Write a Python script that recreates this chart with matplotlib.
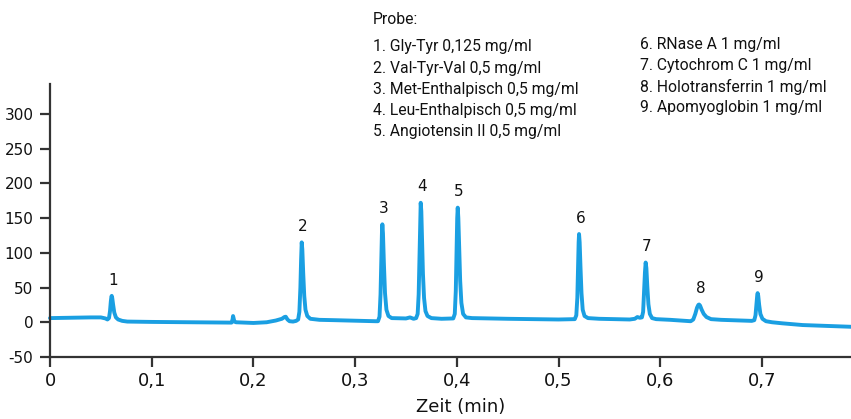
import matplotlib
matplotlib.use("Agg")
import matplotlib.pyplot as plt

# ---- data (time in min, detector signal) ----
time_min = [
    0.0000, 0.0200, 0.0400, 0.0500, 0.0545, 0.0565, 0.0580, 0.0590, 0.0598, 0.0604,
    0.0607, 0.0612, 0.0620, 0.0632, 0.0648, 0.0670, 0.0710, 0.0760, 0.1000, 0.1400,
    0.1785, 0.1795, 0.1800, 0.1805, 0.1812, 0.1830, 0.2000, 0.2130, 0.2220, 0.2280,
    0.2305, 0.2318, 0.2335, 0.2355, 0.2390, 0.2420,
    0.2440, 0.2452, 0.2462, 0.2469, 0.2475, 0.2481, 0.2490, 0.2500, 0.2512, 0.2530,
    0.2560, 0.2650, 0.2800, 0.3050, 0.3200,
    0.3225, 0.3240, 0.3250, 0.3258, 0.3264, 0.3268, 0.3274, 0.3283, 0.3294, 0.3308,
    0.3328, 0.3360, 0.3500, 0.3540, 0.3575,
    0.3600, 0.3615, 0.3625, 0.3633, 0.3640, 0.3645, 0.3651, 0.3658, 0.3667, 0.3678,
    0.3692, 0.3712, 0.3750, 0.3850,
    0.3965, 0.3980, 0.3990, 0.3998, 0.4004, 0.4009, 0.4015, 0.4023, 0.4033, 0.4045,
    0.4062, 0.4090, 0.4150, 0.4500, 0.5000,
    0.5160, 0.5175, 0.5185, 0.5193, 0.5198, 0.5202, 0.5208, 0.5216, 0.5226, 0.5238,
    0.5256, 0.5290, 0.5400, 0.5700,
    0.5750, 0.5775, 0.5800, 0.5820, 0.5832, 0.5842, 0.5850, 0.5857, 0.5864, 0.5873,
    0.5884, 0.5898, 0.5920, 0.5960, 0.6100, 0.6250,
    0.6300, 0.6325, 0.6345, 0.6362, 0.6375, 0.6382, 0.6392, 0.6408, 0.6428, 0.6455,
    0.6500, 0.6600, 0.6800,
    0.6900, 0.6925, 0.6937, 0.6947, 0.6954, 0.6958, 0.6964, 0.6973, 0.6985, 0.7005,
    0.7040, 0.7100, 0.7200, 0.7400, 0.7600, 0.7876,
]
signal = [
    6.0, 6.5, 7.0, 7.0, 5.5, 4.0, 6.0, 16.0, 30.0, 37.0,
    38.0, 35.0, 26.0, 14.0, 7.0, 4.0, 2.0, 1.0, 0.5, 0.0,
    -0.5, 4.0, 9.0, 6.0, 1.0, 0.0, -1.0, 0.0, 2.5, 5.0,
    7.5, 8.0, 4.0, 1.5, 1.0, 2.0,
    4.0, 15.0, 50.0, 90.0, 115.0, 105.0, 70.0, 38.0, 18.0, 9.0,
    5.0, 3.5, 3.0, 2.0, 1.5,
    1.5, 8.0, 40.0, 95.0, 130.0, 141.0, 128.0, 85.0, 42.0, 18.0,
    9.0, 6.0, 5.5, 7.0, 5.0,
    6.0, 12.0, 40.0, 95.0, 150.0, 172.0, 160.0, 120.0, 70.0, 35.0,
    16.0, 9.0, 6.0, 5.0,
    5.5, 12.0, 45.0, 105.0, 150.0, 165.0, 150.0, 110.0, 60.0, 28.0,
    12.0, 7.0, 6.0, 5.0, 4.0,
    4.5, 10.0, 35.0, 85.0, 115.0, 127.0, 115.0, 80.0, 42.0, 18.0,
    9.0, 6.0, 5.0, 4.0,
    5.0, 7.5, 6.5, 7.0, 15.0, 45.0, 72.0, 86.0, 78.0, 52.0,
    26.0, 12.0, 6.0, 4.5, 3.5, 2.0,
    1.5, 4.0, 12.0, 21.0, 25.0, 25.6, 24.0, 18.0, 12.0, 7.5,
    4.5, 3.5, 2.5,
    2.0, 3.0, 10.0, 28.0, 39.0, 42.0, 38.0, 25.0, 12.0, 5.0,
    1.5, 0.0, -1.5, -4.0, -5.0, -6.5,
]

peak_labels = ["1", "2", "3", "4", "5", "6", "7", "8", "9"]
peak_times = [0.0607, 0.2475, 0.3268, 0.3645, 0.4009, 0.5202, 0.5857, 0.6382, 0.6958]
peak_heights = [38.0, 115.0, 141.0, 172.0, 165.0, 127.0, 86.0, 25.6, 42.0]

sample_title = "Probe:"
sample_col1 = [
    "1. Gly-Tyr 0,125 mg/ml",
    "2. Val-Tyr-Val 0,5 mg/ml",
    "3. Met-Enthalpisch 0,5 mg/ml",
    "4. Leu-Enthalpisch 0,5 mg/ml",
    "5. Angiotensin II 0,5 mg/ml",
]
sample_col2 = [
    "6. RNase A 1 mg/ml",
    "7. Cytochrom C 1 mg/ml",
    "8. Holotransferrin 1 mg/ml",
    "9. Apomyoglobin 1 mg/ml",
]

x_ticks = [0, 0.1, 0.2, 0.3, 0.4, 0.5, 0.6, 0.7]
x_ticklabels = ["0", "0,1", "0,2", "0,3", "0,4", "0,5", "0,6", "0,7"]
y_ticks = [-50, 0, 50, 100, 150, 200, 250, 300]
y_ticklabels = ["-50", "0", "50", "100", "150", "200", "250", "300"]
x_label = "Zeit (min)"

# ---- figure ----
W, H = 851, 419
fig = plt.figure(figsize=(W / 100, H / 100), dpi=100)
ax = fig.add_axes([50 / W, (H - 357) / H, (851 - 50) / W, (357 - 84) / H])

line_color = "#1a9fe2"
axis_color = "#333333"
ax.plot(time_min, signal, color=line_color, lw=2.8, solid_joinstyle="round",
        solid_capstyle="round", clip_on=False)

ax.set_xlim(0, 0.7876)
ax.set_ylim(-50, 343)

for s in ["top", "right"]:
    ax.spines[s].set_visible(False)
for s in ["left", "bottom"]:
    ax.spines[s].set_color(axis_color)
    ax.spines[s].set_linewidth(1.6)

ax.set_xticks(x_ticks)
ax.set_xticklabels(x_ticklabels)
ax.set_yticks(y_ticks)
ax.set_yticklabels(y_ticklabels)
ax.tick_params(axis="x", direction="out", length=7, width=1.6, color=axis_color,
               labelsize=13, pad=4, labelcolor="#111111")
ax.tick_params(axis="y", direction="out", length=7, width=1.6, color=axis_color,
               labelsize=11, pad=5, labelcolor="#111111")

fig.text(461 / W, 1 - 407 / H, x_label, ha="center", va="center", fontsize=13,
         color="#111111")

for lab, t, h in zip(peak_labels, peak_times, peak_heights):
    ax.annotate(lab, xy=(t, h), xytext=(1, 6), textcoords="offset points",
                ha="center", va="bottom", fontsize=11, color="#111111")

narrow = ["Roboto", "DejaVu Sans"]
fs_legend = 11.3
fig.text(373 / W, 1 - 20 / H, sample_title, ha="left", va="center", fontsize=fs_legend,
         family=narrow, color="#111111")
for i, s in enumerate(sample_col1):
    fig.text(373 / W, 1 - (46.7 + 21.3 * i) / H, s, ha="left", va="center",
             fontsize=fs_legend, family=narrow, color="#111111")
for i, s in enumerate(sample_col2):
    fig.text(640 / W, 1 - (44 + 21.3 * i) / H, s, ha="left", va="center",
             fontsize=fs_legend, family=narrow, color="#111111")

fig.savefig("out.png", dpi=100)
